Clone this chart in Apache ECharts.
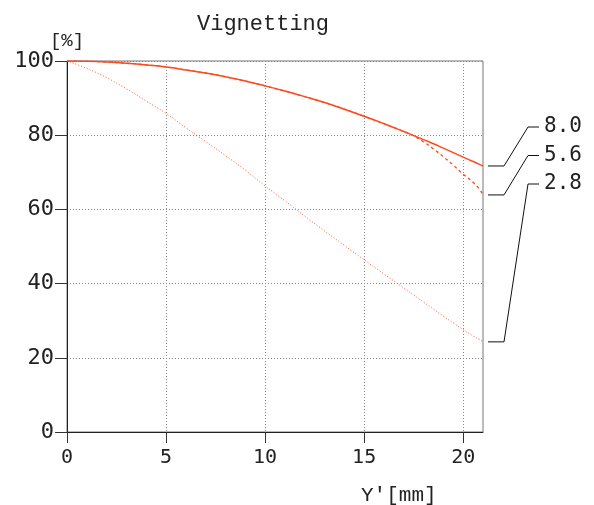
<!DOCTYPE html>
<html>
<head>
<meta charset="utf-8">
<style>
  html, body { margin: 0; padding: 0; background: #fff; }
  #chart { width: 594px; height: 505px; }
</style>
<script src="https://cdn.jsdelivr.net/npm/echarts@6/dist/echarts.min.js"></script>
</head>
<body>
<div id="chart"></div>
<script>
// Image height Y' in mm
const imageHeight = [0, 1, 2, 3, 4, 5, 6, 7, 8, 9, 10, 11, 12, 13, 14, 15, 16, 17, 17.5, 18, 18.5, 19, 19.5, 20, 20.5, 20.8, 21];

// Relative illumination (%) per aperture
const f80 = [100, 99.93, 99.73, 99.4, 98.94, 98.4, 97.6, 96.75, 95.75, 94.6, 93.3, 91.9, 90.4, 88.8, 87.0, 85.1, 83.1, 81.0, 79.9, 78.8, 77.7, 76.5, 75.3, 74.1, 72.9, 72.2, 71.7];
const f56 = [100, 99.93, 99.73, 99.4, 98.94, 98.4, 97.6, 96.75, 95.75, 94.6, 93.3, 91.9, 90.4, 88.8, 87.0, 85.1, 83.1, 81.0, 79.8, 78.2, 76.3, 74.2, 71.9, 69.5, 67.3, 65.6, 63.9];
const f28 = [100, 98.0, 95.5, 92.5, 89.2, 85.9, 82.0, 78.3, 74.5, 70.6, 66.3, 62.3, 58.2, 54.2, 50.3, 46.4, 42.6, 38.8, 36.9, 35.0, 33.1, 31.2, 29.4, 27.6, 25.9, 25.0, 24.3];

const apertureLabels = ['8.0', '5.6', '2.8'];
const xTicks = [0, 5, 10, 15, 20];

const pair = (ys) => imageHeight.map((x, i) => [x, ys[i]]);

const monoFont = '"DejaVu Sans Mono", monospace';
const courier = '"Liberation Mono", "Courier New", monospace';
const lineColor = '#ff4a1c';

const chart = echarts.init(document.getElementById('chart'), null, { renderer: 'canvas' });

chart.setOption({
  animation: false,
  backgroundColor: '#fff',
  title: {
    text: 'Vignetting',
    left: 192,
    top: 8,
    textStyle: { fontFamily: courier, fontSize: 22, fontWeight: 'normal', color: '#222' }
  },
  grid: {
    left: 67, right: 111, top: 61, bottom: 73,
    show: true, borderColor: '#777', borderWidth: 1
  },
  xAxis: {
    type: 'value',
    min: 0, max: 21, interval: 5,
    axisLine: { show: true, lineStyle: { color: '#222', width: 1 } },
    axisTick: { show: true, length: 11, customValues: xTicks, lineStyle: { color: '#333' } },
    axisLabel: {
      customValues: xTicks,
      margin: 16,
      fontFamily: monoFont, fontSize: 20, color: '#222'
    },
    splitLine: { show: true, lineStyle: { color: '#888', type: [1, 2], width: 1 } }
  },
  yAxis: {
    type: 'value',
    min: 0, max: 100, interval: 20,
    name: '[%]',
    nameLocation: 'end',
    nameGap: 2,
    nameTextStyle: { fontFamily: courier, fontSize: 19, color: '#222', align: 'center' },
    axisLine: { show: true, lineStyle: { color: '#222', width: 1 } },
    axisTick: { show: true, length: 12, lineStyle: { color: '#333' } },
    axisLabel: { margin: 13, fontFamily: monoFont, fontSize: 22, color: '#222' },
    splitLine: { show: true, lineStyle: { color: '#888', type: [1, 2], width: 1 } }
  },
  series: [
    {
      name: '8.0', type: 'line', data: pair(f80), symbol: 'none', smooth: true,
      lineStyle: { color: lineColor, width: 1.5, type: 'solid' }, z: 4
    },
    {
      name: '5.6', type: 'line', data: pair(f56), symbol: 'none', smooth: true,
      lineStyle: { color: lineColor, width: 1.3, type: [3, 3] }, z: 3
    },
    {
      name: '2.8', type: 'line', data: pair(f28), symbol: 'none', smooth: true,
      lineStyle: { color: '#ff5a30', width: 1, type: [1, 2] }, z: 2
    }
  ]
});

// Leader lines from each curve's end value to its aperture label
const lastX = imageHeight[imageHeight.length - 1];
const ends = [f80, f56, f28].map(ys => ys[ys.length - 1]);
const labelTop = 127, labelStep = 28.5;
const graphics = [];
ends.forEach((v, i) => {
  const p = chart.convertToPixel({ gridIndex: 0 }, [lastX, v]);
  const ly = labelTop + i * labelStep;
  const x0 = p[0] + 5;
  graphics.push({
    type: 'polyline',
    shape: { points: [[x0, p[1]], [x0 + 16, p[1]], [x0 + 40, ly], [x0 + 51, ly]] },
    style: { stroke: '#111', lineWidth: 1, fill: null },
    silent: true
  });
  graphics.push({
    type: 'text',
    x: x0 + 56,
    y: ly,
    style: {
      text: apertureLabels[i],
      font: '21px ' + monoFont,
      fill: '#222',
      textVerticalAlign: 'middle'
    }
  });
});
graphics.push({
  type: 'text',
  x: 361,
  y: 495,
  style: { text: "Y'[mm]", font: '21px ' + courier, fill: '#222', textVerticalAlign: 'middle' }
});
chart.setOption({ graphic: graphics });
</script>
</body>
</html>
